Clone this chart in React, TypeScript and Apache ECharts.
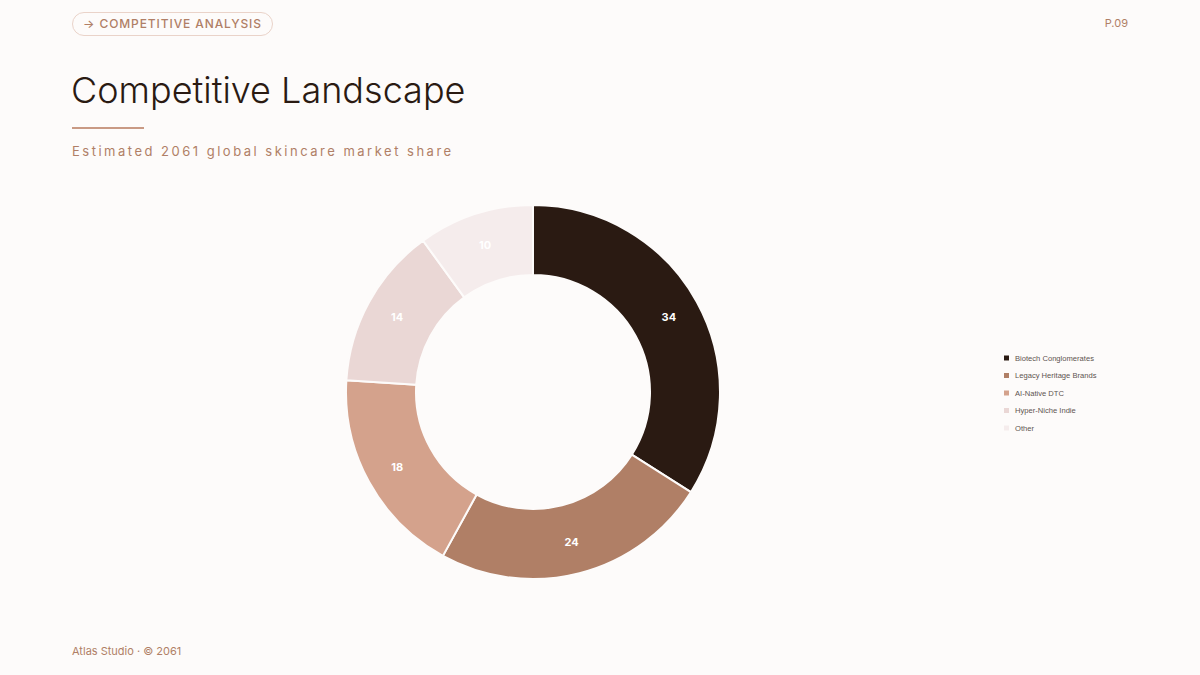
import { useEffect, useRef } from 'react'
import * as echarts from 'echarts'

const categories = ['Biotech Conglomerates', 'Legacy Heritage Brands', 'AI-Native DTC', 'Hyper-Niche Indie', 'Other']
const shares = [34, 24, 18, 14, 10]
const colors = ['#2a1a12', '#b07f66', '#d4a28c', '#ead7d5', '#f5ecec']

const BG = '#fdfbfa'
const ACCENT = '#b07f66'
const FONT = 'Inter, "Noto Sans", sans-serif'

export default function App() {
  const chartRef = useRef<HTMLDivElement | null>(null)

  useEffect(() => {
    if (!chartRef.current) return
    const chart = echarts.init(chartRef.current, undefined, { renderer: 'svg' })
    chart.setOption({
      animation: false,
      backgroundColor: 'transparent',
      textStyle: { fontFamily: FONT },
      legend: {
        orient: 'vertical',
        left: 997,
        top: 348,
        icon: 'rect',
        itemWidth: 7,
        itemHeight: 7,
        itemGap: 7.5,
        textStyle: { fontSize: 7.6, color: '#5e5450', lineHeight: 10, fontFamily: '"Liberation Sans", Arial, sans-serif' },
        data: categories,
      },
      series: [{
        type: 'pie',
        center: [533, 392],
        radius: [117, 187],
        startAngle: 90,
        clockwise: true,
        avoidLabelOverlap: false,
        itemStyle: { borderColor: BG, borderWidth: 2 },
        label: {
          show: true,
          position: 'inside',
          color: '#ffffff',
          fontSize: 11,
          fontWeight: 'bold',
          fontFamily: FONT,
          formatter: '{c}',
        },
        labelLine: { show: false },
        emphasis: { disabled: true },
        data: categories.map((name, i) => ({
          name,
          value: shares[i],
          itemStyle: { color: colors[i] },
        })),
      }],
    })
    return () => chart.dispose()
  }, [])

  return (
    <div style={{ position: 'fixed', left: 0, top: 0, width: 1200, height: 675, background: BG, fontFamily: FONT, overflow: 'hidden' }}>
      <div style={{
        position: 'absolute', left: 72, top: 12, height: 22, padding: '0 10px',
        border: '1px solid #ead3c9', borderRadius: 12, color: ACCENT,
        fontSize: 12, fontWeight: 500, letterSpacing: 0.9, lineHeight: '22px', whiteSpace: 'nowrap',
      }}>
        → COMPETITIVE ANALYSIS
      </div>
      <div style={{ position: 'absolute', right: 72, top: 16, fontSize: 11, color: ACCENT }}>P.09</div>
      <div style={{ position: 'absolute', left: 71, top: 66, fontSize: 36, fontWeight: 300, color: '#2a1a12', lineHeight: '48px', whiteSpace: 'nowrap' }}>
        Competitive Landscape
      </div>
      <div style={{ position: 'absolute', left: 72, top: 127, width: 72, height: 1.5, background: '#c99a84' }} />
      <div style={{ position: 'absolute', left: 72, top: 142, fontSize: 13, color: ACCENT, letterSpacing: 2.5, whiteSpace: 'nowrap', lineHeight: '18px' }}>
        Estimated 2061 global skincare market share
      </div>
      <div ref={chartRef} style={{ position: 'absolute', left: 0, top: 0, width: 1200, height: 675 }} />
      <div style={{ position: 'absolute', left: 72, top: 643, fontSize: 11, color: ACCENT, whiteSpace: 'nowrap', lineHeight: '16px' }}>
        Atlas Studio · © 2061
      </div>
    </div>
  )
}
